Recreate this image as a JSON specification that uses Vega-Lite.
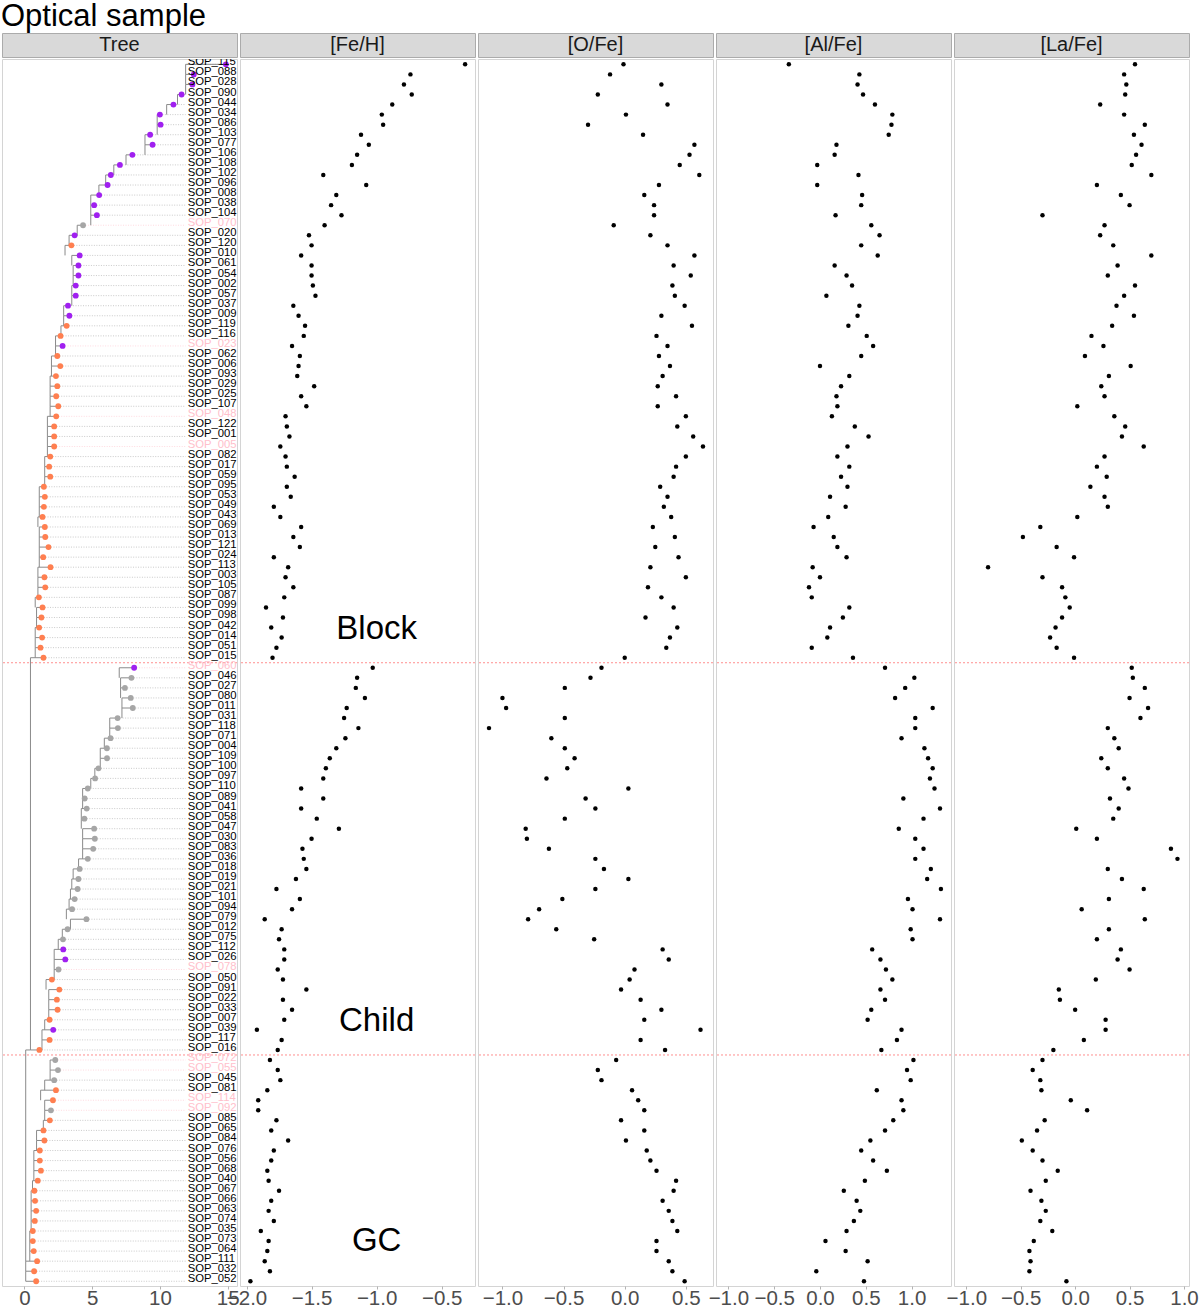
{
"$schema":"https://vega.github.io/schema/vega-lite/v6.json",
"padding":{"left":1,"top":0,"right":0,"bottom":0},
"config":{"font":"Liberation Sans","view":{"stroke":"#D4D4D4","strokeWidth":1},"concat":{"spacing":3},
"axis":{"domain":false,"grid":false,"ticks":true,"tickColor":"#B3B3B3","tickSize":3,"labelFontSize":20.5,"labelColor":"#4D4D4D","labelFont":"Liberation Sans","title":null,"labelPadding":-1,"labelOverlap":false,"labelFlush":false,"labelBound":false}},
"title":{"text":"Optical sample","anchor":"start","fontSize":31,"font":"Liberation Sans","fontWeight":"normal","color":"black","offset":0},
"datasets":{
"s":[
{"r":1,"id":"SOP_115","t":14.87,"b":11.9,"c":"P","pk":0,"g":"B","fe":-0.32,"o":-0.01,"al":-0.34,"la":0.55},
{"r":2,"id":"SOP_088","t":12.5,"b":11.9,"c":"P","pk":0,"g":"B","fe":-0.74,"o":-0.12,"al":0.43,"la":0.45},
{"r":3,"id":"SOP_028","t":12.4,"b":11.9,"c":"P","pk":0,"g":"B","fe":-0.79,"o":0.30,"al":0.41,"la":0.47},
{"r":4,"id":"SOP_090","t":11.6,"b":11.3,"c":"P","pk":0,"g":"B","fe":-0.73,"o":-0.22,"al":0.47,"la":0.46},
{"r":5,"id":"SOP_044","t":11.0,"b":10.5,"c":"P","pk":0,"g":"B","fe":-0.88,"o":0.35,"al":0.60,"la":0.23},
{"r":6,"id":"SOP_034","t":10.0,"b":9.8,"c":"P","pk":0,"g":"B","fe":-0.96,"o":0.01,"al":0.79,"la":0.45},
{"r":7,"id":"SOP_086","t":10.05,"b":9.8,"c":"P","pk":0,"g":"B","fe":-0.95,"o":-0.30,"al":0.78,"la":0.64},
{"r":8,"id":"SOP_103","t":9.28,"b":8.9,"c":"P","pk":0,"g":"B","fe":-1.12,"o":0.15,"al":0.75,"la":0.54},
{"r":9,"id":"SOP_077","t":9.46,"b":8.9,"c":"P","pk":0,"g":"B","fe":-1.06,"o":0.57,"al":0.18,"la":0.61},
{"r":10,"id":"SOP_106","t":7.97,"b":7.5,"c":"P","pk":0,"g":"B","fe":-1.15,"o":0.53,"al":0.16,"la":0.56},
{"r":11,"id":"SOP_108","t":7.05,"b":6.6,"c":"P","pk":0,"g":"B","fe":-1.19,"o":0.45,"al":-0.03,"la":0.52},
{"r":12,"id":"SOP_102","t":6.38,"b":6.0,"c":"P","pk":0,"g":"B","fe":-1.41,"o":0.61,"al":0.42,"la":0.70},
{"r":13,"id":"SOP_096","t":6.14,"b":5.5,"c":"P","pk":0,"g":"B","fe":-1.08,"o":0.28,"al":-0.03,"la":0.20},
{"r":14,"id":"SOP_008","t":5.52,"b":4.9,"c":"P","pk":0,"g":"B","fe":-1.31,"o":0.16,"al":0.46,"la":0.42},
{"r":15,"id":"SOP_038","t":5.15,"b":4.9,"c":"P","pk":0,"g":"B","fe":-1.35,"o":0.24,"al":0.45,"la":0.50},
{"r":16,"id":"SOP_104","t":5.35,"b":4.9,"c":"P","pk":0,"g":"B","fe":-1.27,"o":0.24,"al":0.17,"la":-0.30},
{"r":17,"id":"SOP_070","t":4.33,"b":3.9,"c":"G","pk":1,"g":"B","fe":-1.40,"o":-0.09,"al":0.56,"la":0.27},
{"r":18,"id":"SOP_020","t":3.71,"b":3.3,"c":"P","pk":0,"g":"B","fe":-1.52,"o":0.21,"al":0.65,"la":0.23},
{"r":19,"id":"SOP_120","t":3.47,"b":3.0,"c":"O","pk":0,"g":"B","fe":-1.50,"o":0.35,"al":0.45,"la":0.35},
{"r":20,"id":"SOP_010","t":4.08,"b":3.5,"c":"P","pk":0,"g":"B","fe":-1.58,"o":0.57,"al":0.63,"la":0.70},
{"r":21,"id":"SOP_061","t":3.99,"b":3.6,"c":"P","pk":0,"g":"B","fe":-1.50,"o":0.40,"al":0.16,"la":0.39},
{"r":22,"id":"SOP_054","t":3.99,"b":3.6,"c":"P","pk":0,"g":"B","fe":-1.50,"o":0.54,"al":0.29,"la":0.30},
{"r":23,"id":"SOP_002","t":3.79,"b":3.5,"c":"P","pk":0,"g":"B","fe":-1.49,"o":0.39,"al":0.35,"la":0.55},
{"r":24,"id":"SOP_057","t":3.79,"b":3.5,"c":"P","pk":0,"g":"B","fe":-1.47,"o":0.41,"al":0.07,"la":0.45},
{"r":25,"id":"SOP_037","t":3.22,"b":2.9,"c":"P","pk":0,"g":"B","fe":-1.64,"o":0.49,"al":0.43,"la":0.38},
{"r":26,"id":"SOP_009","t":3.32,"b":2.9,"c":"P","pk":0,"g":"B","fe":-1.60,"o":0.30,"al":0.41,"la":0.54},
{"r":27,"id":"SOP_119","t":3.12,"b":2.7,"c":"O","pk":0,"g":"B","fe":-1.55,"o":0.55,"al":0.31,"la":0.34},
{"r":28,"id":"SOP_116","t":2.67,"b":2.3,"c":"O","pk":0,"g":"B","fe":-1.56,"o":0.26,"al":0.51,"la":0.15},
{"r":29,"id":"SOP_023","t":2.82,"b":2.3,"c":"P","pk":1,"g":"B","fe":-1.65,"o":0.35,"al":0.58,"la":0.26},
{"r":30,"id":"SOP_062","t":2.43,"b":2.0,"c":"O","pk":0,"g":"B","fe":-1.59,"o":0.28,"al":0.45,"la":0.09},
{"r":31,"id":"SOP_006","t":2.65,"b":2.0,"c":"O","pk":0,"g":"B","fe":-1.60,"o":0.37,"al":0.00,"la":0.51},
{"r":32,"id":"SOP_093","t":2.33,"b":1.9,"c":"O","pk":0,"g":"B","fe":-1.61,"o":0.31,"al":0.32,"la":0.31},
{"r":33,"id":"SOP_029","t":2.43,"b":1.9,"c":"O","pk":0,"g":"B","fe":-1.48,"o":0.27,"al":0.23,"la":0.24},
{"r":34,"id":"SOP_025","t":2.35,"b":1.9,"c":"O","pk":0,"g":"B","fe":-1.58,"o":0.42,"al":0.18,"la":0.27},
{"r":35,"id":"SOP_107","t":2.5,"b":1.9,"c":"O","pk":0,"g":"B","fe":-1.54,"o":0.27,"al":0.19,"la":0.02},
{"r":36,"id":"SOP_048","t":2.35,"b":1.7,"c":"O","pk":1,"g":"B","fe":-1.70,"o":0.50,"al":0.13,"la":0.36},
{"r":37,"id":"SOP_122","t":2.2,"b":1.7,"c":"O","pk":0,"g":"B","fe":-1.69,"o":0.43,"al":0.38,"la":0.46},
{"r":38,"id":"SOP_001","t":2.2,"b":1.7,"c":"O","pk":0,"g":"B","fe":-1.67,"o":0.56,"al":0.53,"la":0.43},
{"r":39,"id":"SOP_005","t":2.2,"b":1.7,"c":"O","pk":1,"g":"B","fe":-1.74,"o":0.64,"al":0.30,"la":0.63},
{"r":40,"id":"SOP_082","t":1.91,"b":1.5,"c":"O","pk":0,"g":"B","fe":-1.70,"o":0.50,"al":0.19,"la":0.27},
{"r":41,"id":"SOP_017","t":1.83,"b":1.5,"c":"O","pk":0,"g":"B","fe":-1.69,"o":0.42,"al":0.32,"la":0.20},
{"r":42,"id":"SOP_059","t":1.91,"b":1.5,"c":"O","pk":0,"g":"B","fe":-1.63,"o":0.40,"al":0.23,"la":0.29},
{"r":43,"id":"SOP_095","t":1.44,"b":1.1,"c":"O","pk":0,"g":"B","fe":-1.69,"o":0.29,"al":0.30,"la":0.14},
{"r":44,"id":"SOP_053","t":1.51,"b":1.1,"c":"O","pk":0,"g":"B","fe":-1.66,"o":0.35,"al":0.11,"la":0.27},
{"r":45,"id":"SOP_049","t":1.44,"b":1.1,"c":"O","pk":0,"g":"B","fe":-1.79,"o":0.32,"al":0.28,"la":0.30},
{"r":46,"id":"SOP_043","t":1.34,"b":1.0,"c":"O","pk":0,"g":"B","fe":-1.74,"o":0.38,"al":0.09,"la":0.02},
{"r":47,"id":"SOP_069","t":1.51,"b":1.1,"c":"O","pk":0,"g":"B","fe":-1.58,"o":0.23,"al":-0.07,"la":-0.32},
{"r":48,"id":"SOP_013","t":1.54,"b":1.1,"c":"O","pk":0,"g":"B","fe":-1.64,"o":0.41,"al":0.15,"la":-0.48},
{"r":49,"id":"SOP_121","t":1.78,"b":1.1,"c":"O","pk":0,"g":"B","fe":-1.59,"o":0.25,"al":0.19,"la":-0.17},
{"r":50,"id":"SOP_024","t":1.39,"b":1.1,"c":"O","pk":0,"g":"B","fe":-1.79,"o":0.44,"al":0.29,"la":-0.01},
{"r":51,"id":"SOP_113","t":1.93,"b":1.0,"c":"O","pk":0,"g":"B","fe":-1.68,"o":0.21,"al":-0.08,"la":-0.80},
{"r":52,"id":"SOP_003","t":1.48,"b":1.0,"c":"O","pk":0,"g":"B","fe":-1.70,"o":0.50,"al":0.00,"la":-0.30},
{"r":53,"id":"SOP_105","t":1.54,"b":1.0,"c":"O","pk":0,"g":"B","fe":-1.64,"o":0.19,"al":-0.12,"la":-0.12},
{"r":54,"id":"SOP_087","t":1.07,"b":0.8,"c":"O","pk":0,"g":"B","fe":-1.71,"o":0.30,"al":-0.09,"la":-0.09},
{"r":55,"id":"SOP_099","t":1.34,"b":0.9,"c":"O","pk":0,"g":"B","fe":-1.85,"o":0.40,"al":0.32,"la":-0.05},
{"r":56,"id":"SOP_098","t":1.26,"b":0.9,"c":"O","pk":0,"g":"B","fe":-1.72,"o":0.17,"al":0.25,"la":-0.12},
{"r":57,"id":"SOP_042","t":1.09,"b":0.8,"c":"O","pk":0,"g":"B","fe":-1.81,"o":0.43,"al":0.11,"la":-0.18},
{"r":58,"id":"SOP_014","t":1.31,"b":0.8,"c":"O","pk":0,"g":"B","fe":-1.73,"o":0.37,"al":0.08,"la":-0.23},
{"r":59,"id":"SOP_051","t":1.19,"b":0.8,"c":"O","pk":0,"g":"B","fe":-1.77,"o":0.34,"al":-0.09,"la":-0.17},
{"r":60,"id":"SOP_015","t":1.41,"b":0.45,"c":"O","pk":0,"g":"B","fe":-1.80,"o":0.00,"al":0.36,"la":-0.01},
{"r":61,"id":"SOP_060","t":8.1,"b":7.0,"c":"P","pk":1,"g":"C","fe":-1.03,"o":-0.19,"al":0.71,"la":0.52},
{"r":62,"id":"SOP_046","t":7.9,"b":7.1,"c":"G","pk":0,"g":"C","fe":-1.15,"o":-0.28,"al":1.03,"la":0.53},
{"r":63,"id":"SOP_027","t":7.42,"b":7.1,"c":"G","pk":0,"g":"C","fe":-1.16,"o":-0.49,"al":0.93,"la":0.64},
{"r":64,"id":"SOP_080","t":7.85,"b":7.2,"c":"G","pk":0,"g":"C","fe":-1.09,"o":-1.00,"al":0.82,"la":0.50},
{"r":65,"id":"SOP_011","t":8.0,"b":7.2,"c":"G","pk":0,"g":"C","fe":-1.23,"o":-0.97,"al":1.23,"la":0.67},
{"r":66,"id":"SOP_031","t":6.88,"b":6.3,"c":"G","pk":0,"g":"C","fe":-1.25,"o":-0.49,"al":1.04,"la":0.60},
{"r":67,"id":"SOP_118","t":6.9,"b":6.3,"c":"G","pk":0,"g":"C","fe":-1.14,"o":-1.11,"al":1.04,"la":0.30},
{"r":68,"id":"SOP_071","t":6.36,"b":5.9,"c":"G","pk":0,"g":"C","fe":-1.24,"o":-0.60,"al":0.89,"la":0.36},
{"r":69,"id":"SOP_004","t":6.09,"b":5.6,"c":"G","pk":0,"g":"C","fe":-1.31,"o":-0.49,"al":1.14,"la":0.40},
{"r":70,"id":"SOP_109","t":6.1,"b":5.6,"c":"G","pk":0,"g":"C","fe":-1.36,"o":-0.41,"al":1.18,"la":0.24},
{"r":71,"id":"SOP_100","t":5.47,"b":5.2,"c":"G","pk":0,"g":"C","fe":-1.39,"o":-0.47,"al":1.23,"la":0.30},
{"r":72,"id":"SOP_097","t":5.22,"b":4.9,"c":"G","pk":0,"g":"C","fe":-1.41,"o":-0.64,"al":1.20,"la":0.45},
{"r":73,"id":"SOP_110","t":4.68,"b":4.3,"c":"G","pk":0,"g":"C","fe":-1.58,"o":0.03,"al":1.25,"la":0.49},
{"r":74,"id":"SOP_089","t":4.45,"b":4.3,"c":"G","pk":0,"g":"C","fe":-1.41,"o":-0.32,"al":0.91,"la":0.32},
{"r":75,"id":"SOP_041","t":4.6,"b":4.2,"c":"G","pk":0,"g":"C","fe":-1.58,"o":-0.24,"al":1.31,"la":0.40},
{"r":76,"id":"SOP_058","t":4.43,"b":4.2,"c":"G","pk":0,"g":"C","fe":-1.46,"o":-0.49,"al":1.13,"la":0.35},
{"r":77,"id":"SOP_047","t":5.15,"b":4.3,"c":"G","pk":0,"g":"C","fe":-1.29,"o":-0.81,"al":0.86,"la":0.01},
{"r":78,"id":"SOP_030","t":5.2,"b":4.3,"c":"G","pk":0,"g":"C","fe":-1.50,"o":-0.80,"al":1.04,"la":0.20},
{"r":79,"id":"SOP_083","t":5.08,"b":4.3,"c":"G","pk":0,"g":"C","fe":-1.57,"o":-0.62,"al":1.13,"la":0.88},
{"r":80,"id":"SOP_036","t":4.68,"b":4.0,"c":"G","pk":0,"g":"C","fe":-1.56,"o":-0.24,"al":1.04,"la":0.94},
{"r":81,"id":"SOP_018","t":4.08,"b":3.6,"c":"G","pk":0,"g":"C","fe":-1.54,"o":-0.17,"al":1.21,"la":0.30},
{"r":82,"id":"SOP_019","t":3.99,"b":3.5,"c":"G","pk":0,"g":"C","fe":-1.62,"o":0.03,"al":1.17,"la":0.43},
{"r":83,"id":"SOP_021","t":3.93,"b":3.4,"c":"G","pk":0,"g":"C","fe":-1.77,"o":-0.24,"al":1.32,"la":0.63},
{"r":84,"id":"SOP_101","t":3.71,"b":3.3,"c":"G","pk":0,"g":"C","fe":-1.59,"o":-0.51,"al":0.96,"la":0.31},
{"r":85,"id":"SOP_094","t":3.52,"b":3.1,"c":"G","pk":0,"g":"C","fe":-1.65,"o":-0.70,"al":1.01,"la":0.06},
{"r":86,"id":"SOP_079","t":4.58,"b":3.4,"c":"G","pk":0,"g":"C","fe":-1.86,"o":-0.79,"al":1.31,"la":0.64},
{"r":87,"id":"SOP_012","t":3.19,"b":2.8,"c":"G","pk":0,"g":"C","fe":-1.73,"o":-0.56,"al":0.99,"la":0.31},
{"r":88,"id":"SOP_075","t":2.85,"b":2.5,"c":"G","pk":0,"g":"C","fe":-1.75,"o":-0.25,"al":1.01,"la":0.20},
{"r":89,"id":"SOP_112","t":2.87,"b":2.2,"c":"P","pk":0,"g":"C","fe":-1.71,"o":0.31,"al":0.57,"la":0.42},
{"r":90,"id":"SOP_026","t":3.02,"b":2.2,"c":"P","pk":0,"g":"C","fe":-1.71,"o":0.36,"al":0.66,"la":0.39},
{"r":91,"id":"SOP_078","t":2.52,"b":2.2,"c":"G","pk":1,"g":"C","fe":-1.76,"o":0.08,"al":0.72,"la":0.50},
{"r":92,"id":"SOP_050","t":2.03,"b":1.6,"c":"O","pk":0,"g":"C","fe":-1.72,"o":0.04,"al":0.79,"la":0.19},
{"r":93,"id":"SOP_091","t":2.58,"b":1.8,"c":"O","pk":0,"g":"C","fe":-1.54,"o":-0.03,"al":0.66,"la":-0.15},
{"r":94,"id":"SOP_022","t":2.4,"b":1.8,"c":"O","pk":0,"g":"C","fe":-1.72,"o":0.13,"al":0.71,"la":-0.14},
{"r":95,"id":"SOP_033","t":2.45,"b":1.8,"c":"O","pk":0,"g":"C","fe":-1.65,"o":0.30,"al":0.56,"la":0.00},
{"r":96,"id":"SOP_007","t":1.86,"b":1.5,"c":"O","pk":0,"g":"C","fe":-1.71,"o":0.16,"al":0.52,"la":0.28},
{"r":97,"id":"SOP_039","t":2.13,"b":1.3,"c":"P","pk":0,"g":"C","fe":-1.92,"o":0.62,"al":0.89,"la":0.28},
{"r":98,"id":"SOP_117","t":1.86,"b":1.3,"c":"O","pk":0,"g":"C","fe":-1.73,"o":0.13,"al":0.84,"la":0.08},
{"r":99,"id":"SOP_016","t":1.11,"b":0.45,"c":"O","pk":0,"g":"C","fe":-1.76,"o":0.33,"al":0.67,"la":-0.20},
{"r":100,"id":"SOP_072","t":2.28,"b":1.9,"c":"G","pk":1,"g":"G","fe":-1.82,"o":-0.07,"al":1.02,"la":-0.30},
{"r":101,"id":"SOP_055","t":2.48,"b":1.9,"c":"G","pk":1,"g":"G","fe":-1.76,"o":-0.22,"al":0.95,"la":-0.39},
{"r":102,"id":"SOP_045","t":2.2,"b":1.5,"c":"G","pk":0,"g":"G","fe":-1.74,"o":-0.19,"al":0.99,"la":-0.32},
{"r":103,"id":"SOP_081","t":2.33,"b":1.2,"c":"O","pk":0,"g":"G","fe":-1.84,"o":0.06,"al":0.62,"la":-0.31},
{"r":104,"id":"SOP_114","t":2.11,"b":1.5,"c":"O","pk":1,"g":"G","fe":-1.91,"o":0.11,"al":0.89,"la":-0.04},
{"r":105,"id":"SOP_092","t":1.96,"b":1.5,"c":"G","pk":1,"g":"G","fe":-1.91,"o":0.16,"al":0.91,"la":0.11},
{"r":106,"id":"SOP_085","t":1.88,"b":1.4,"c":"O","pk":0,"g":"G","fe":-1.77,"o":-0.03,"al":0.80,"la":-0.28},
{"r":107,"id":"SOP_065","t":1.41,"b":0.9,"c":"O","pk":0,"g":"G","fe":-1.81,"o":0.16,"al":0.71,"la":-0.35},
{"r":108,"id":"SOP_084","t":1.48,"b":0.9,"c":"O","pk":0,"g":"G","fe":-1.68,"o":0.01,"al":0.55,"la":-0.49},
{"r":109,"id":"SOP_076","t":1.14,"b":0.7,"c":"O","pk":0,"g":"G","fe":-1.79,"o":0.18,"al":0.45,"la":-0.39},
{"r":110,"id":"SOP_056","t":1.14,"b":0.7,"c":"O","pk":0,"g":"G","fe":-1.81,"o":0.21,"al":0.58,"la":-0.30},
{"r":111,"id":"SOP_068","t":1.22,"b":0.7,"c":"O","pk":0,"g":"G","fe":-1.84,"o":0.26,"al":0.73,"la":-0.16},
{"r":112,"id":"SOP_040","t":0.99,"b":0.6,"c":"O","pk":0,"g":"G","fe":-1.83,"o":0.42,"al":0.49,"la":-0.27},
{"r":113,"id":"SOP_067","t":0.74,"b":0.5,"c":"O","pk":0,"g":"G","fe":-1.75,"o":0.40,"al":0.26,"la":-0.41},
{"r":114,"id":"SOP_066","t":0.79,"b":0.5,"c":"O","pk":0,"g":"G","fe":-1.81,"o":0.31,"al":0.40,"la":-0.31},
{"r":115,"id":"SOP_063","t":0.87,"b":0.5,"c":"O","pk":0,"g":"G","fe":-1.83,"o":0.36,"al":0.44,"la":-0.27},
{"r":116,"id":"SOP_074","t":0.77,"b":0.5,"c":"O","pk":0,"g":"G","fe":-1.79,"o":0.39,"al":0.37,"la":-0.32},
{"r":117,"id":"SOP_035","t":0.62,"b":0.4,"c":"O","pk":0,"g":"G","fe":-1.89,"o":0.43,"al":0.29,"la":-0.21},
{"r":118,"id":"SOP_073","t":0.62,"b":0.4,"c":"O","pk":0,"g":"G","fe":-1.83,"o":0.26,"al":0.06,"la":-0.38},
{"r":119,"id":"SOP_064","t":0.69,"b":0.4,"c":"O","pk":0,"g":"G","fe":-1.84,"o":0.26,"al":0.28,"la":-0.42},
{"r":120,"id":"SOP_111","t":0.94,"b":0.1,"c":"O","pk":0,"g":"G","fe":-1.86,"o":0.36,"al":0.52,"la":-0.41},
{"r":121,"id":"SOP_032","t":0.72,"b":0.1,"c":"O","pk":0,"g":"G","fe":-1.82,"o":0.39,"al":-0.04,"la":-0.42},
{"r":122,"id":"SOP_052","t":0.87,"b":0.1,"c":"O","pk":0,"g":"G","fe":-1.97,"o":0.49,"al":0.48,"la":-0.08}
],
"links":[{"x":0.45,"x2":0.45,"y":60,"y2":99},{"x":0.1,"x2":0.1,"y":99,"y2":120},{"x":0.1,"x2":0.45,"y":99,"y2":99}],
"cuts":[{"r":60.5},{"r":99.5}],
"notes":[{"t":"Block","r":57.1,"v":-1.0},{"t":"Child","r":96.1,"v":-1.0},{"t":"GC","r":118.0,"v":-1.0}]
},
"vconcat":[
{"spacing":3,"bounds":"flush","hconcat":[
{"width":235,"height":24,"data":{"values":[{"t":"Tree"}]},"view":{"fill":"#D9D9D9","stroke":"#ABABAB"},"mark":{"type":"text","fontSize":20,"color":"#1A1A1A"},"encoding":{"text":{"field":"t"}}},
{"width":235,"height":24,"data":{"values":[{"t":"[Fe/H]"}]},"view":{"fill":"#D9D9D9","stroke":"#ABABAB"},"mark":{"type":"text","fontSize":20,"color":"#1A1A1A"},"encoding":{"text":{"field":"t"}}},
{"width":235,"height":24,"data":{"values":[{"t":"[O/Fe]"}]},"view":{"fill":"#D9D9D9","stroke":"#ABABAB"},"mark":{"type":"text","fontSize":20,"color":"#1A1A1A"},"encoding":{"text":{"field":"t"}}},
{"width":235,"height":24,"data":{"values":[{"t":"[Al/Fe]"}]},"view":{"fill":"#D9D9D9","stroke":"#ABABAB"},"mark":{"type":"text","fontSize":20,"color":"#1A1A1A"},"encoding":{"text":{"field":"t"}}},
{"width":235,"height":24,"data":{"values":[{"t":"[La/Fe]"}]},"view":{"fill":"#D9D9D9","stroke":"#ABABAB"},"mark":{"type":"text","fontSize":20,"color":"#1A1A1A"},"encoding":{"text":{"field":"t"}}}
]},
{"spacing":3,"bounds":"flush","hconcat":[
{"width":235,"height":1227,"layer":[
 {"data":{"name":"cuts"},"mark":{"type":"rule","color":"#FF8F8F","strokeDash":[2,2],"strokeWidth":1},"encoding":{"y":{"field":"r","type":"quantitative","scale":{"domain":[0.47,122.47],"reverse":true,"nice":false,"zero":false},"axis":null}}},
 {"data":{"name":"s"},"transform":[{"filter":"datum.pk == 0"}],"mark":{"type":"rule","color":"#BDBDBD","strokeDash":[1,1.5],"strokeWidth":0.8},"encoding":{"x":{"field":"t","type":"quantitative","scale":{"domain":[-1.65,15.69],"nice":false,"zero":false},"axis":{"values":[0,5,10,15],"format":"d"}},"x2":{"datum":11.9},"y":{"field":"r","type":"quantitative","scale":{"domain":[0.47,122.47],"reverse":true,"nice":false,"zero":false},"axis":null}}},
 {"data":{"name":"s"},"transform":[{"filter":"datum.pk == 1"}],"mark":{"type":"rule","color":"#FFD0D8","strokeDash":[1,1.5],"strokeWidth":0.8},"encoding":{"x":{"field":"t","type":"quantitative"},"x2":{"datum":11.9},"y":{"field":"r","type":"quantitative"}}},
 {"data":{"name":"s"},"mark":{"type":"rule","color":"#8A8A8A","strokeWidth":1},"encoding":{"x":{"field":"b","type":"quantitative"},"x2":{"field":"t"},"y":{"field":"r","type":"quantitative"}}},
 {"data":{"name":"s"},"transform":[{"window":[{"op":"lead","field":"r","as":"nx"}],"groupby":["g"],"sort":[{"field":"r"}]},{"filter":"datum.nx != null"}],"mark":{"type":"rule","color":"#8A8A8A","strokeWidth":1},"encoding":{"x":{"field":"b","type":"quantitative"},"y":{"field":"r","type":"quantitative"},"y2":{"field":"nx"}}},
 {"data":{"name":"links"},"mark":{"type":"rule","color":"#8A8A8A","strokeWidth":1},"encoding":{"x":{"field":"x","type":"quantitative"},"x2":{"field":"x2"},"y":{"field":"y","type":"quantitative"},"y2":{"field":"y2"}}},
 {"data":{"name":"s"},"mark":{"type":"circle","size":34,"opacity":1},"encoding":{"x":{"field":"t","type":"quantitative"},"y":{"field":"r","type":"quantitative"},"fill":{"field":"c","type":"nominal","scale":{"domain":["P","O","G"],"range":["#A020F0","#FF7F50","#A6A6A6"]},"legend":null}}},
 {"data":{"name":"s"},"transform":[{"filter":"datum.pk == 0"}],"mark":{"type":"text","align":"left","baseline":"alphabetic","fontSize":11.3,"color":"#000000","dy":1,"clip":true},"encoding":{"x":{"datum":12.05,"type":"quantitative"},"y":{"field":"r","type":"quantitative"},"text":{"field":"id"}}},
 {"data":{"name":"s"},"transform":[{"filter":"datum.pk == 1"}],"mark":{"type":"text","align":"left","baseline":"alphabetic","fontSize":11.3,"color":"#FFC0CB","dy":1,"clip":true},"encoding":{"x":{"datum":12.05,"type":"quantitative"},"y":{"field":"r","type":"quantitative"},"text":{"field":"id"}}}
]},
{"width":235,"height":1227,"layer":[
 {"data":{"name":"cuts"},"mark":{"type":"rule","color":"#FF8F8F","strokeDash":[2,2],"strokeWidth":1},"encoding":{"y":{"field":"r","type":"quantitative","scale":{"domain":[0.47,122.47],"reverse":true,"nice":false,"zero":false},"axis":null}}},
 {"data":{"name":"s"},"mark":{"type":"circle","size":20,"opacity":1,"color":"#000000"},"encoding":{"x":{"field":"fe","type":"quantitative","scale":{"domain":[-2.05,-0.244],"nice":false,"zero":false},"axis":{"values":[-2,-1.5,-1,-0.5],"format":".1f"}},"y":{"field":"r","type":"quantitative"}}},
 {"data":{"name":"notes"},"mark":{"type":"text","fontSize":33,"color":"#000000","baseline":"middle"},"encoding":{"x":{"field":"v","type":"quantitative"},"y":{"field":"r","type":"quantitative"},"text":{"field":"t"}}}
]},
{"width":235,"height":1227,"layer":[
 {"data":{"name":"cuts"},"mark":{"type":"rule","color":"#FF8F8F","strokeDash":[2,2],"strokeWidth":1},"encoding":{"y":{"field":"r","type":"quantitative","scale":{"domain":[0.47,122.47],"reverse":true,"nice":false,"zero":false},"axis":null}}},
 {"data":{"name":"s"},"mark":{"type":"circle","size":20,"opacity":1,"color":"#000000"},"encoding":{"x":{"field":"o","type":"quantitative","scale":{"domain":[-1.2,0.722],"nice":false,"zero":false},"axis":{"values":[-1,-0.5,0,0.5],"format":".1f"}},"y":{"field":"r","type":"quantitative"}}}
]},
{"width":235,"height":1227,"layer":[
 {"data":{"name":"cuts"},"mark":{"type":"rule","color":"#FF8F8F","strokeDash":[2,2],"strokeWidth":1},"encoding":{"y":{"field":"r","type":"quantitative","scale":{"domain":[0.47,122.47],"reverse":true,"nice":false,"zero":false},"axis":null}}},
 {"data":{"name":"s"},"mark":{"type":"circle","size":20,"opacity":1,"color":"#000000"},"encoding":{"x":{"field":"al","type":"quantitative","scale":{"domain":[-1.135,1.43],"nice":false,"zero":false},"axis":{"values":[-1,-0.5,0,0.5,1],"format":".1f"}},"y":{"field":"r","type":"quantitative"}}}
]},
{"width":235,"height":1227,"layer":[
 {"data":{"name":"cuts"},"mark":{"type":"rule","color":"#FF8F8F","strokeDash":[2,2],"strokeWidth":1},"encoding":{"y":{"field":"r","type":"quantitative","scale":{"domain":[0.47,122.47],"reverse":true,"nice":false,"zero":false},"axis":null}}},
 {"data":{"name":"s"},"mark":{"type":"circle","size":20,"opacity":1,"color":"#000000"},"encoding":{"x":{"field":"la","type":"quantitative","scale":{"domain":[-1.113,1.046],"nice":false,"zero":false},"axis":{"values":[-1,-0.5,0,0.5,1],"format":".1f"}},"y":{"field":"r","type":"quantitative"}}}
]}
]}
],
"spacing":0
}
